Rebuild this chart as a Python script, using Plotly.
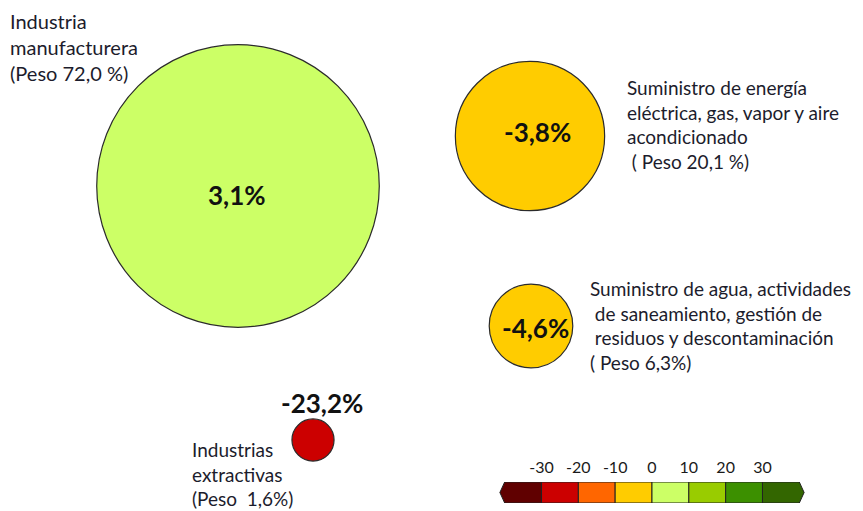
import numpy as np
import plotly.graph_objects as go

# datos
etiquetas = [
    "Industria<br>manufacturera<br>(Peso 72,0 %)",
    "Suministro de energía<br>eléctrica, gas, vapor y aire<br>acondicionado<br>\u00a0( Peso 20,1 %)",
    "Suministro de agua, actividades<br>\u00a0de saneamiento, gestión de<br>\u00a0residuos y descontaminación<br>( Peso 6,3%)",
    "Industrias<br>extractivas<br>(Peso \u00a01,6%)",
]
peso = [72.0, 20.1, 6.3, 1.6]
variacion = [3.1, -3.8, -4.6, -23.2]

escala_limites = [-40, -30, -20, -10, 0, 10, 20, 30, 40]
escala_colores = ["#600000", "#CC0000", "#FF6600", "#FFCC00",
                  "#CCFF66", "#99CC00", "#3C9000", "#336600"]
escala_ticks = [-30, -20, -10, 0, 10, 20, 30]

# posiciones en la página (px); la página tiene 8 px de margen
burbuja_x = [238, 530, 531, 313]
burbuja_y = [186, 136, 326, 440]
valor_x = [237, 537, 535, 322]
valor_y = [195, 132, 328, 403]
nombre_x = [8, 625, 588, 190]
nombre_y = [47, 124, 325, 474]
nombre_size = [20, 19, 19, 19]
off = 8

idx = np.digitize(variacion, escala_limites) - 1
colores = [escala_colores[i] for i in idx]
diametro = 33.3 * np.sqrt(peso)

fig = go.Figure()
fig.add_trace(go.Scatter(
    x=burbuja_x, y=burbuja_y, mode="markers",
    marker=dict(size=diametro, sizemode="diameter", color=colores,
                opacity=1, line=dict(color="#2b2b2b", width=1.2)),
    hoverinfo="skip"))

for i, v in enumerate(variacion):
    fig.add_annotation(x=valor_x[i], y=valor_y[i], xref="x", yref="y",
                       text="<b>" + f"{v:.1f}".replace(".", ",") + "%</b>",
                       showarrow=False, font=dict(family="Lato", size=26, color="#111"))
    fig.add_annotation(x=nombre_x[i], y=nombre_y[i], xref="x", yref="y",
                       text=etiquetas[i], showarrow=False, xanchor="left", yanchor="middle",
                       align="left", font=dict(family="Lato", size=nombre_size[i], color="#1c1c2c"))

# escala de colores
punta = 1.3
n = len(escala_colores)
for i in range(n):
    lo, hi = escala_limites[i], escala_limites[i + 1]
    if i == 0:
        xs = [hi, lo, lo - punta, lo, hi, hi]
        ys = [0, 0, 0.5, 1, 1, 0]
    elif i == n - 1:
        xs = [lo, hi, hi + punta, hi, lo, lo]
        ys = [0, 0, 0.5, 1, 1, 0]
    else:
        xs = [lo, hi, hi, lo, lo]
        ys = [0, 0, 1, 1, 0]
    fig.add_trace(go.Scatter(x=xs, y=ys, xaxis="x2", yaxis="y2", mode="lines",
                             fill="toself", fillcolor=escala_colores[i],
                             line=dict(color="#222", width=1), hoverinfo="skip"))

W, H = 863, 511
fig.update_layout(
    width=W, height=H,
    margin=dict(l=0, r=0, t=0, b=0),
    paper_bgcolor="white", plot_bgcolor="rgba(0,0,0,0)",
    showlegend=False,
    xaxis=dict(range=[off, W + off], visible=False, domain=[0, 1]),
    yaxis=dict(range=[H + off, off], visible=False, domain=[0, 1]),
    xaxis2=dict(domain=[(498.8 - off) / W, (805.2 - off) / W], range=[-41.6, 41.6], anchor="y2",
                side="top", tickvals=escala_ticks, ticktext=[str(t) for t in escala_ticks],
                ticks="", showgrid=False, zeroline=False, showline=False,
                ticklabelstandoff=5,
                tickfont=dict(family="Lato", size=16, color="#1a1a1a")),
    yaxis2=dict(domain=[(H - 503 + off) / H, (H - 482 + off) / H], range=[0, 1],
                anchor="x2", visible=False),
)

fig.write_html("out.html")
